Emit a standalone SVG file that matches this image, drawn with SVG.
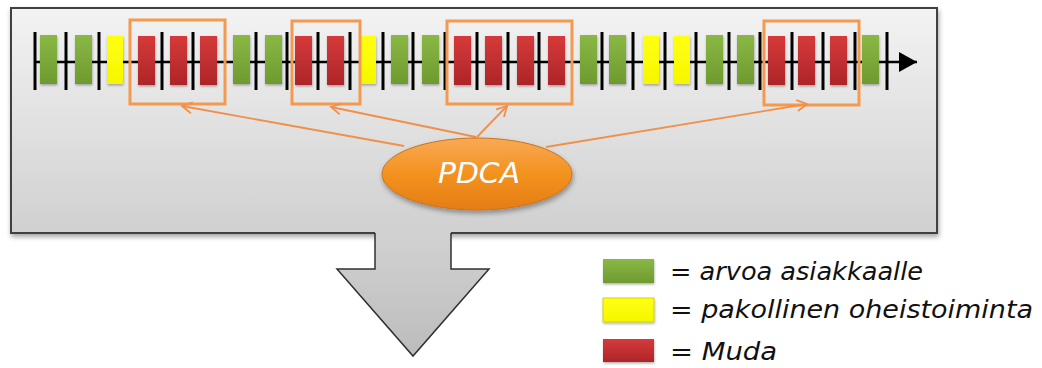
<svg xmlns="http://www.w3.org/2000/svg" width="1042" height="368" viewBox="0 0 1042 368">
  <style>
    .g { fill: url(#gGreen); }
    .y { fill: url(#gYellow); }
    .r { fill: url(#gRed); }
    .tick { stroke: #000; stroke-width: 3; }
    .frame { fill: none; stroke: #f39a4e; stroke-width: 3; }
    .conn { fill: none; stroke: #f0904a; stroke-width: 1.8; marker-end: url(#open); }
    .leg { font-family: "DejaVu Sans", "Liberation Sans", sans-serif; font-style: oblique; font-size: 24px; fill: #111; }
  </style>
  <defs>
    <linearGradient id="gBox" x1="0" y1="0" x2="0" y2="1">
      <stop offset="0" stop-color="#f3f3f3"/>
      <stop offset="1" stop-color="#d0d0d0"/>
    </linearGradient>
    <linearGradient id="gArrow" gradientUnits="userSpaceOnUse" x1="0" y1="231" x2="0" y2="356">
      <stop offset="0" stop-color="#d2d2d2"/>
      <stop offset="1" stop-color="#bcbcbc"/>
    </linearGradient>
    <linearGradient id="gGreen" x1="0" y1="0" x2="0" y2="1">
      <stop offset="0" stop-color="#8ab845"/>
      <stop offset="1" stop-color="#6e9a2f"/>
    </linearGradient>
    <linearGradient id="gYellow" x1="0" y1="0" x2="0" y2="1">
      <stop offset="0" stop-color="#ffff10"/>
      <stop offset="1" stop-color="#f6f600"/>
    </linearGradient>
    <linearGradient id="gRed" x1="0" y1="0" x2="0" y2="1">
      <stop offset="0" stop-color="#d63a3a"/>
      <stop offset="1" stop-color="#ad2528"/>
    </linearGradient>
    <linearGradient id="gOrange" x1="0" y1="0" x2="0" y2="1">
      <stop offset="0" stop-color="#f9a955"/>
      <stop offset="0.5" stop-color="#f3921f"/>
      <stop offset="1" stop-color="#e47d14"/>
    </linearGradient>
    <filter id="shadow" x="-5%" y="-10%" width="110%" height="125%">
      <feDropShadow dx="1" dy="3" stdDeviation="2.5" flood-color="#000" flood-opacity="0.35"/>
    </filter>
    <filter id="soft" x="-20%" y="-20%" width="140%" height="140%">
      <feDropShadow dx="0.5" dy="1.5" stdDeviation="1" flood-color="#000" flood-opacity="0.3"/>
    </filter>
    <marker id="open" markerWidth="14" markerHeight="14" refX="11" refY="7" orient="auto" markerUnits="userSpaceOnUse">
      <path d="M1,1.5 L11,7 L1,12.5" fill="none" stroke="#f0904a" stroke-width="1.8"/>
    </marker>
    <marker id="axisHead" markerWidth="20" markerHeight="20" refX="18" refY="10" orient="auto" markerUnits="userSpaceOnUse">
      <path d="M0,0 L18,10 L0,20 Z" fill="#000"/>
    </marker>
  </defs>

  <g id="main-box">
    <rect x="11" y="8" width="926" height="225" fill="url(#gBox)" stroke="#404040" stroke-width="2" filter="url(#shadow)"/>
  </g>

  <g id="down-arrow">
    <path d="M375,231 L375,269 L337,269 L413,356 L489,269 L451,269 L451,231 Z" fill="url(#gArrow)"/>
    <path d="M375,233 L375,269 L337,269 L413,356 L489,269 L451,269 L451,233" fill="none" stroke="#303030" stroke-width="1.5" stroke-linejoin="miter"/>
  </g>

  <g id="timeline">
    <line x1="35" y1="62" x2="917" y2="62" stroke="#000" stroke-width="2.5" marker-end="url(#axisHead)"/>
    <g filter="url(#soft)">
      <rect class="g" x="40" y="35" width="17" height="49"/>
      <rect class="g" x="75" y="35" width="17" height="49"/>
      <rect class="y" x="107" y="36" width="16" height="48"/>
      <rect class="r" x="138" y="36" width="17" height="49"/>
      <rect class="r" x="170" y="36" width="17" height="49"/>
      <rect class="r" x="200" y="36" width="17" height="49"/>
      <rect class="g" x="233" y="35" width="17" height="49"/>
      <rect class="g" x="265" y="35" width="17" height="49"/>
      <rect class="r" x="295" y="36" width="17" height="49"/>
      <rect class="r" x="327" y="36" width="17" height="49"/>
      <rect class="y" x="360" y="36" width="16" height="48"/>
      <rect class="g" x="391" y="35" width="17" height="49"/>
      <rect class="g" x="422" y="35" width="17" height="49"/>
      <rect class="r" x="454" y="36" width="17" height="49"/>
      <rect class="r" x="485" y="36" width="17" height="49"/>
      <rect class="r" x="517" y="36" width="17" height="49"/>
      <rect class="r" x="548" y="36" width="17" height="49"/>
      <rect class="g" x="580" y="35" width="17" height="49"/>
      <rect class="g" x="609" y="35" width="17" height="49"/>
      <rect class="y" x="643" y="36" width="16" height="48"/>
      <rect class="y" x="674" y="36" width="16" height="48"/>
      <rect class="g" x="706" y="35" width="17" height="49"/>
      <rect class="g" x="737" y="35" width="17" height="49"/>
      <rect class="r" x="768" y="36" width="17" height="49"/>
      <rect class="r" x="798" y="36" width="17" height="49"/>
      <rect class="r" x="830" y="36" width="17" height="49"/>
      <rect class="g" x="862" y="35" width="17" height="49"/>
    </g>
    <g>
      <line class="tick" x1="35" y1="32" x2="35" y2="90"/>
      <line class="tick" x1="66" y1="32" x2="66" y2="90"/>
      <line class="tick" x1="99" y1="32" x2="99" y2="90"/>
      <line class="tick" x1="162" y1="32" x2="162" y2="90"/>
      <line class="tick" x1="193" y1="32" x2="193" y2="90"/>
      <line class="tick" x1="256" y1="32" x2="256" y2="90"/>
      <line class="tick" x1="287" y1="32" x2="287" y2="90"/>
      <line class="tick" x1="318" y1="32" x2="318" y2="90"/>
      <line class="tick" x1="350" y1="32" x2="350" y2="90"/>
      <line class="tick" x1="383" y1="32" x2="383" y2="90"/>
      <line class="tick" x1="413" y1="32" x2="413" y2="90"/>
      <line class="tick" x1="445" y1="32" x2="445" y2="90"/>
      <line class="tick" x1="477" y1="32" x2="477" y2="90"/>
      <line class="tick" x1="508" y1="32" x2="508" y2="90"/>
      <line class="tick" x1="539" y1="32" x2="539" y2="90"/>
      <line class="tick" x1="602" y1="32" x2="602" y2="90"/>
      <line class="tick" x1="633" y1="32" x2="633" y2="90"/>
      <line class="tick" x1="665" y1="32" x2="665" y2="90"/>
      <line class="tick" x1="696" y1="32" x2="696" y2="90"/>
      <line class="tick" x1="729" y1="32" x2="729" y2="90"/>
      <line class="tick" x1="760" y1="32" x2="760" y2="90"/>
      <line class="tick" x1="792" y1="32" x2="792" y2="90"/>
      <line class="tick" x1="823" y1="32" x2="823" y2="90"/>
      <line class="tick" x1="855" y1="32" x2="855" y2="90"/>
      <line class="tick" x1="887" y1="32" x2="887" y2="90"/>
    </g>
  </g>

  <g id="muda-frames">
    <rect class="frame" x="130" y="20" width="95" height="84"/>
    <rect class="frame" x="292" y="21" width="68" height="83"/>
    <rect class="frame" x="447" y="21" width="125" height="83"/>
    <rect class="frame" x="764" y="21" width="95" height="84"/>
  </g>

  <g id="connectors">
    <line class="conn" x1="404" y1="146" x2="182" y2="106"/>
    <line class="conn" x1="476" y1="137" x2="331" y2="107"/>
    <line class="conn" x1="477" y1="137" x2="507" y2="106"/>
    <line class="conn" x1="546" y1="147" x2="807" y2="104"/>
  </g>

  <g id="pdca">
    <ellipse cx="477" cy="174" rx="95" ry="36" fill="url(#gOrange)" stroke="#c9731f" stroke-width="1" filter="url(#shadow)"/>
    <text x="479" y="183" text-anchor="middle" font-family="DejaVu Sans, Liberation Sans, sans-serif" font-style="oblique" font-size="29" fill="#fff" textLength="82" lengthAdjust="spacingAndGlyphs">PDCA</text>
  </g>

  <g id="legend">
    <g filter="url(#soft)">
      <rect class="g" x="603" y="259" width="51" height="24"/>
      <rect class="y" x="603" y="298" width="51" height="24" stroke="#c9c900" stroke-width="0.8"/>
      <rect class="r" x="603" y="339" width="51" height="23"/>
    </g>
    <text class="leg" x="670" y="280" textLength="253" lengthAdjust="spacingAndGlyphs">= arvoa asiakkaalle</text>
    <text class="leg" x="670" y="318" textLength="363" lengthAdjust="spacingAndGlyphs">= pakollinen oheistoiminta</text>
    <text class="leg" x="670" y="360" textLength="107" lengthAdjust="spacingAndGlyphs">= Muda</text>
  </g>
</svg>
